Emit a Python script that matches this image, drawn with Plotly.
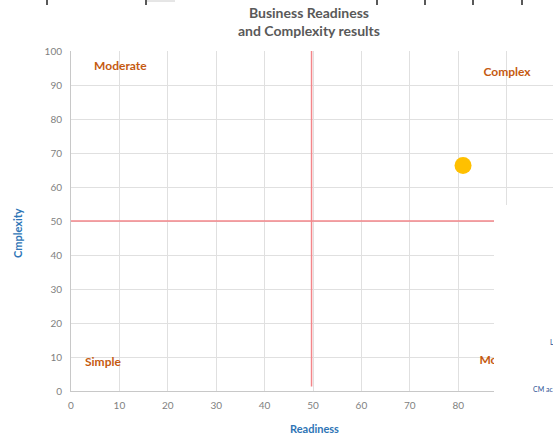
import plotly.graph_objects as go

# Data
readiness = [81]
complexity = [66.3]

# Threshold lines (quadrant dividers)
vline_x = [49.7, 49.7]
vline_y = [1.3, 100]
hline_x = [0, 100]
hline_y = [50, 50]

# Quadrant labels
label_text = ["Moderate", "Complex", "Simple", "Moderate"]
label_x = [10.2, 90.1, 6.6, 89.8]
label_y = [95.2, 93.5, 8.2, 8.7]

x_ticks = [0, 10, 20, 30, 40, 50, 60, 70, 80, 90]
y_ticks = [0, 10, 20, 30, 40, 50, 60, 70, 80, 90, 100]

FONT = "Lato"
W, H = 553, 436
L, R, T, B = 71, 0, 51, 45
PW, PH = W - L - R, H - T - B

def px_x(p):
    return (p - L) / PW

def px_y(p):
    return (H - B - p) / PH

fig = go.Figure()

fig.add_trace(go.Scatter(x=vline_x, y=vline_y, mode="lines",
                         line=dict(color="#f3868a", width=1.5),
                         hoverinfo="skip", showlegend=False))
fig.add_trace(go.Scatter(x=hline_x, y=hline_y, mode="lines",
                         line=dict(color="#f3868a", width=1.5),
                         hoverinfo="skip", showlegend=False))
fig.add_trace(go.Scatter(x=label_x, y=label_y, mode="text", text=label_text,
                         textposition="middle center",
                         textfont=dict(family=FONT, size=12, color="#c55a11", weight="bold"),
                         hoverinfo="skip", showlegend=False))
fig.add_trace(go.Scatter(x=readiness, y=complexity, mode="markers",
                         marker=dict(color="#ffc000", size=17, line=dict(width=0)),
                         showlegend=False))

shapes = []
# white block covering the right-lower part (cropped screenshot)
shapes.append(dict(type="rect", xref="paper", yref="paper",
                   x0=px_x(494), x1=px_x(560), y0=px_y(440), y1=px_y(205),
                   fillcolor="white", line=dict(width=0), layer="above"))
# tick marks from a table above the chart
for xp in [47, 146, 377, 425, 473, 522]:
    shapes.append(dict(type="line", xref="paper", yref="paper",
                       x0=px_x(xp), x1=px_x(xp), y0=px_y(0), y1=px_y(5),
                       line=dict(color="#222222", width=1.5), layer="above"))
shapes.append(dict(type="line", xref="paper", yref="paper",
                   x0=px_x(147), x1=px_x(175), y0=px_y(1), y1=px_y(1),
                   line=dict(color="#cccccc", width=1), layer="above"))

annotations = [
    dict(text="<b>Business Readiness<br>and Complexity results</b>", xref="paper", yref="paper",
         x=px_x(309), y=px_y(21.5), xanchor="center", yanchor="middle", showarrow=False,
         font=dict(family=FONT, size=14, color="#595959")),
    dict(text="<b>Readiness</b>", xref="paper", yref="paper",
         x=px_x(314), y=px_y(428), xanchor="center", yanchor="middle", showarrow=False,
         font=dict(family=FONT, size=11, color="#2e75b6")),
    dict(text="<b>Cmplexity</b>", xref="paper", yref="paper", textangle=-90,
         x=px_x(17), y=px_y(233), xanchor="center", yanchor="middle", showarrow=False,
         font=dict(family=FONT, size=11, color="#2e75b6")),
    dict(text="L", xref="paper", yref="paper",
         x=px_x(548), y=px_y(342), xanchor="left", yanchor="middle", showarrow=False,
         font=dict(family=FONT, size=7, color="#2f5597")),
    dict(text="CM ac", xref="paper", yref="paper",
         x=px_x(531), y=px_y(389), xanchor="left", yanchor="middle", showarrow=False,
         font=dict(family=FONT, size=7, color="#2f5597")),
]

fig.update_layout(
    width=W, height=H,
    margin=dict(l=L, r=R, t=T, b=B, pad=0),
    plot_bgcolor="white", paper_bgcolor="white",
    shapes=shapes, annotations=annotations,
    xaxis=dict(range=[0, PW / 4.84], tickvals=x_ticks, showgrid=True, gridcolor="#e0e0e0",
               gridwidth=1, zeroline=False, showline=True, linecolor="#c8c8c8", linewidth=1,
               ticks="outside", ticklen=5, tickcolor="rgba(0,0,0,0)",
               tickfont=dict(family=FONT, size=10, color="#7f7f7f")),
    yaxis=dict(range=[0, 100], tickvals=y_ticks, showgrid=True, gridcolor="#e0e0e0",
               gridwidth=1, zeroline=False, showline=True, linecolor="#c8c8c8", linewidth=1,
               ticks="outside", ticklen=6, tickcolor="rgba(0,0,0,0)",
               tickfont=dict(family=FONT, size=10, color="#7f7f7f")),
)

fig.write_html("out.html")
